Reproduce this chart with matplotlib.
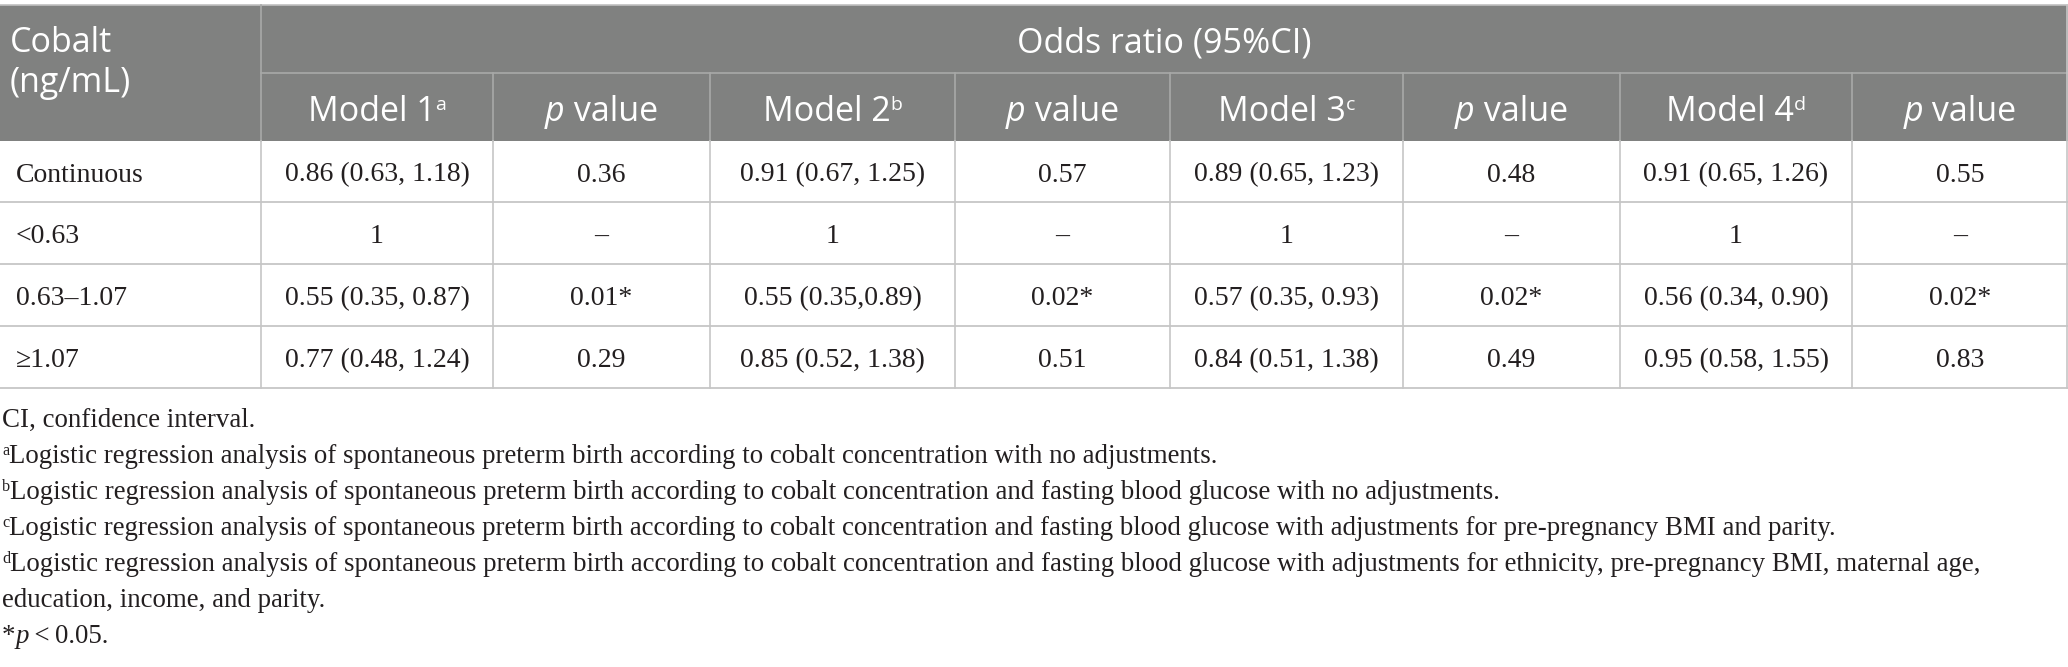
import matplotlib.pyplot as plt
from matplotlib.patches import Rectangle

W, H = 2068, 667

# table content
row_header = ["Cobalt", "(ng/mL)"]
group_header = "Odds ratio (95%CI)"
models = ["Model 1", "Model 2", "Model 3", "Model 4"]
model_marks = ["a", "b", "c", "d"]
row_labels = ["Continuous", "<0.63", "0.63\u20131.07", "\u22651.07"]
model1 = ["0.86 (0.63, 1.18)", "1", "0.55 (0.35, 0.87)", "0.77 (0.48, 1.24)"]
p1 = ["0.36", "\u2013", "0.01*", "0.29"]
model2 = ["0.91 (0.67, 1.25)", "1", "0.55 (0.35,0.89)", "0.85 (0.52, 1.38)"]
p2 = ["0.57", "\u2013", "0.02*", "0.51"]
model3 = ["0.89 (0.65, 1.23)", "1", "0.57 (0.35, 0.93)", "0.84 (0.51, 1.38)"]
p3 = ["0.48", "\u2013", "0.02*", "0.49"]
model4 = ["0.91 (0.65, 1.26)", "1", "0.56 (0.34, 0.90)", "0.95 (0.58, 1.55)"]
p4 = ["0.55", "\u2013", "0.02*", "0.83"]

note_marks = ["", "a", "b", "c", "d", "", "*"]
note_texts = [
    "CI, confidence interval.",
    "Logistic regression analysis of spontaneous preterm birth according to cobalt concentration with no adjustments.",
    "Logistic regression analysis of spontaneous preterm birth according to cobalt concentration and fasting blood glucose with no adjustments.",
    "Logistic regression analysis of spontaneous preterm birth according to cobalt concentration and fasting blood glucose with adjustments for pre-pregnancy BMI and parity.",
    "Logistic regression analysis of spontaneous preterm birth according to cobalt concentration and fasting blood glucose with adjustments for ethnicity, pre-pregnancy BMI, maternal age,",
    "education, income, and parity.",
    "p",
]

# layout (pixels)
col_edges = [0, 261, 493, 710, 955, 1170, 1403, 1620, 1852, 2068]
row_edges = [5, 73, 141, 202, 264, 326, 388]
note_base = [427, 463, 499, 535, 571, 607, 643]

HEAD_BG = "#808180"
HEAD_LINE = "#a8a9a8"
BODY_LINE = "#c6c6c6"
TXT = "#231f20"
SANS = ["Open Sans", "DejaVu Sans"]
SERIF = ["Liberation Serif", "DejaVu Serif"]

fig = plt.figure(figsize=(W / 100, H / 100), dpi=100)
ax = fig.add_axes([0, 0, 1, 1])
ax.set_xlim(0, W)
ax.set_ylim(H, 0)
ax.axis("off")
renderer = fig.canvas.get_renderer()


def fit_size(s, family, target):
    t = ax.text(0, 0, s, fontsize=10, family=family)
    w = t.get_window_extent(renderer).width
    t.remove()
    return 10 * target / w


def runs(x, y, parts, ha="left"):
    # parts: (string, text kwargs, raise in px)
    items = [ax.text(0, y - dy, s, va="baseline", ha="left", **kw) for s, kw, dy in parts]
    widths = [t.get_window_extent(renderer).width for t in items]
    cur = x - sum(widths) / 2 if ha == "center" else x
    for t, w in zip(items, widths):
        t.set_x(cur)
        cur += w


body_fs = fit_size(model1[0], SERIF, 184)
note_fs = fit_size(note_texts[1], SERIF, 1224 - 13)
head_fs = 24.5
sup_fs = 14

# header background and lines
ax.add_patch(Rectangle((0, row_edges[0]), W, row_edges[2] - row_edges[0],
                       facecolor=HEAD_BG, edgecolor="none"))
ax.plot([0, W], [row_edges[0], row_edges[0]], color="#c0c0c0", lw=1.2)
ax.plot([col_edges[1], W], [row_edges[1], row_edges[1]], color=HEAD_LINE, lw=1.2)
ax.plot([col_edges[1], col_edges[1]], [row_edges[0], row_edges[2]], color=HEAD_LINE, lw=1.2)
for cx in col_edges[2:-1]:
    ax.plot([cx, cx], [row_edges[1], row_edges[2]], color=HEAD_LINE, lw=1.2)

# body lines
for ry in row_edges[3:]:
    ax.plot([0, W], [ry, ry], color=BODY_LINE, lw=1.3)
for cx in col_edges[1:-1]:
    ax.plot([cx, cx], [row_edges[2], row_edges[-1]], color=BODY_LINE, lw=1.2)
ax.plot([W - 1, W - 1], [row_edges[0], row_edges[-1]], color=BODY_LINE, lw=1.2)

# header text
head_kw = dict(fontsize=head_fs, family=SANS, color="white")
ax.text(10, 52, row_header[0], va="baseline", **head_kw)
ax.text(10, 92, row_header[1], va="baseline", **head_kw)
ax.text((col_edges[1] + W) / 2, 52, group_header, ha="center", va="baseline", **head_kw)

sub_base = 121
for i, (m, mk) in enumerate(zip(models, model_marks)):
    c0, c1, c2 = col_edges[1 + 2 * i], col_edges[2 + 2 * i], col_edges[3 + 2 * i]
    runs((c0 + c1) / 2, sub_base,
         [(m, head_kw, 0), (mk, dict(fontsize=sup_fs, family=SANS, color="white"), 11)],
         ha="center")
    runs((c1 + c2) / 2, sub_base,
         [("p", dict(head_kw, style="italic"), 0), (" value", head_kw, 0)],
         ha="center")

# body text
body_kw = dict(fontsize=body_fs, family=SERIF, color=TXT, va="baseline")
columns = [model1, p1, model2, p2, model3, p3, model4, p4]
for r, label in enumerate(row_labels):
    base = (row_edges[2 + r] + row_edges[3 + r]) / 2 + 10
    ax.text(16, base, label, **body_kw)
    for c, col in enumerate(columns):
        cx = (col_edges[1 + c] + col_edges[2 + c]) / 2
        ax.text(cx, base, col[r], ha="center", **body_kw)

# footnotes
note_kw = dict(fontsize=note_fs, family=SERIF, color=TXT)
sup_note = dict(fontsize=note_fs * 0.6, family=SERIF, color=TXT)
for mk, txt, base in zip(note_marks, note_texts, note_base):
    if mk == "*":
        runs(2, base, [("*", note_kw, 0), ("p", dict(note_kw, style="italic"), 0),
                       ("\u2009<\u20090.05.", note_kw, 0)])
    elif mk:
        runs(2, base, [(mk, sup_note, 8), (txt, note_kw, 0)])
    else:
        runs(2, base, [(txt, note_kw, 0)])

fig.savefig("out.png", dpi=100)
